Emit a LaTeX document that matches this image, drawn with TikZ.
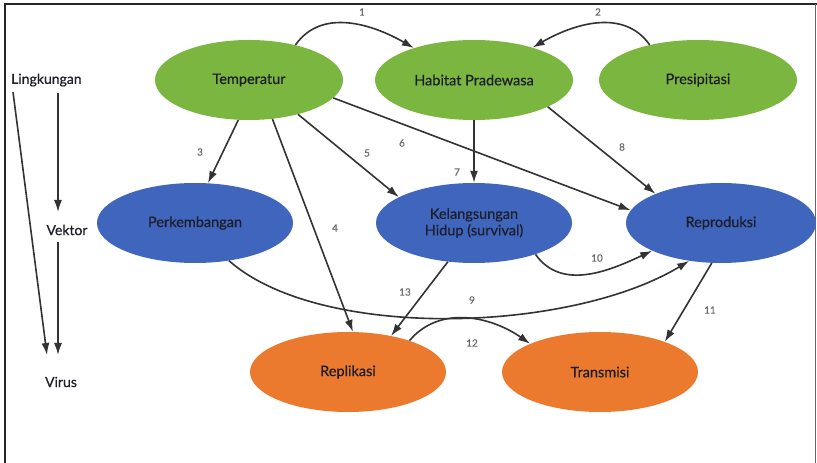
\documentclass[tikz,border=0pt]{standalone}
\usepackage{fontspec}
\setmainfont{Lato}
\newfontfamily\labfont[FakeBold=0.5]{Lato}
\usetikzlibrary{shapes.geometric,arrows.meta}
\definecolor{cgreen}{HTML}{7AB640}
\definecolor{cblue}{HTML}{3F65BC}
\definecolor{corange}{HTML}{EC7A2E}
\definecolor{ctext}{HTML}{1E1E2A}
\definecolor{carrow}{HTML}{333333}
\definecolor{cnum}{HTML}{6A6A6A}
\begin{document}
\begin{tikzpicture}[x=1pt,y=1pt,
  blob/.style={ellipse,minimum width=196pt,minimum height=80pt,inner sep=0pt,
     font=\labfont\fontsize{14.5}{16.5}\selectfont,text=ctext,align=center},
  gblob/.style={blob,fill=cgreen},
  bblob/.style={blob,fill=cblue},
  oblob/.style={blob,fill=corange},
  lvl/.style={font=\labfont\fontsize{14}{16}\selectfont,text=ctext,inner sep=0pt},
  num/.style={font=\labfont\fontsize{10}{12}\selectfont,text=cnum,inner sep=0pt},
  conn/.style={draw=carrow,line width=1.6pt,-{Latex[length=12pt,width=8pt]}}]
\useasboundingbox (0,0) rectangle (817,463);
\draw[line width=2.2pt,color=black!85] (5,0) -- (5,459) -- (817,459);
\draw[line width=0.8pt,color=black!60] (815.5,459) -- (815.5,0);
% nodes
\node[gblob,minimum width=188pt] (temp) at (249,383) {Temperatur};
\node[gblob,minimum width=198pt] (hab) at (474,383) {Habitat Pradewasa};
\node[gblob,minimum width=198pt] (pres) at (698,383) {Presipitasi};
\node[bblob] (perk) at (195,240) {Perkembangan};
\node[bblob] (kel) at (474,240) {Kelangsungan\\Hidup (survival)};
\node[bblob,minimum width=190pt] (rep) at (721,240) {Reproduksi};
\node[oblob] (repl) at (348,91) {Replikasi};
\node[oblob] (trans) at (600,91) {Transmisi};
% level labels
\node[lvl,anchor=west] (ling) at (11,383) {Lingkungan};
\node[lvl] (vek) at (67,233) {Vektor};
\node[lvl] (vir) at (61,81) {Virus};
\coordinate (lA) at (58,370);
\coordinate (lB) at (58,251);
\coordinate (vA) at (58,221);
\coordinate (vB) at (58,108);
\coordinate (dA) at (13,371);
\coordinate (dB) at (47,108);
\draw[conn] (lA) -- (lB);
\draw[conn] (vA) -- (vB);
\draw[conn] (dA) -- (dB);
% connectors
\draw[conn] (temp.37) to[out=55,in=150] (hab.152);
\draw[conn] (pres.144) to[out=125,in=30] (hab.29);
\draw[conn] (temp.255) -- (perk.72);
\draw[conn] (temp.301) -- (repl.83);
\draw[conn] (temp.325) -- (kel.161);
\draw[conn] (temp.348) -- (rep.172);
\draw[conn] (hab.south) -- (kel.north);
\draw[conn] (hab.340) -- (rep.156);
\draw[conn] (perk.312) .. controls (320,122) and (570,130) .. (rep.230);
\draw[conn] (kel.333) to[out=-55,in=205] (rep.202);
\draw[conn] (rep.257) -- (trans.25);
\draw[conn] (repl.27) to[out=50,in=145] (trans.158);
\draw[conn] (kel.236) -- (repl.40);
% numbers
\node[num] (n1) at (362,451) {1};
\node[num] (n2) at (598,451) {2};
\node[num] (n3) at (200,311) {3};
\node[num] (n4) at (335,235) {4};
\node[num] (n5) at (367,310) {5};
\node[num] (n6) at (402,320) {6};
\node[num] (n7) at (457,291) {7};
\node[num] (n8) at (622,316) {8};
\node[num] (n9) at (472,163) {9};
\node[num] (n10) at (597,205) {10};
\node[num] (n11) at (710,153) {11};
\node[num] (n12) at (472,120) {12};
\node[num] (n13) at (405,171) {13};
\end{tikzpicture}
\end{document}
